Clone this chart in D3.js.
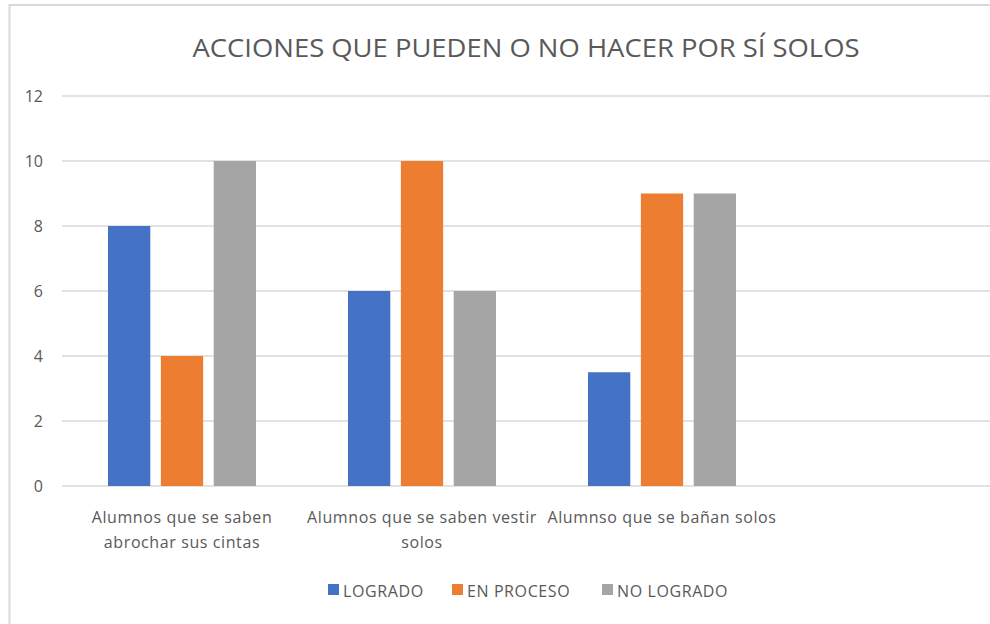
<!DOCTYPE html>
<html>
<head>
<meta charset="utf-8">
<script src="https://cdn.jsdelivr.net/npm/d3@7"></script>
<style>
  body { margin: 0; background: #fff; }
  text { font-family: "Open Sans", "Noto Sans", sans-serif; fill: #595959; }
</style>
</head>
<body>
<svg id="chart" width="990" height="624"></svg>
<script>
// data
var categories = ["Alumnos que se saben abrochar sus cintas", "Alumnos que se saben vestir solos", "Alumnso que se bañan solos", ""];
var categoryLines = [["Alumnos que se saben", "abrochar sus cintas"], ["Alumnos que se saben vestir", "solos"], ["Alumnso que se bañan solos"], []];
var series = ["LOGRADO", "EN PROCESO", "NO LOGRADO"];
var logrado = [8, 6, 3.5];
var enProceso = [4, 10, 9];
var noLogrado = [10, 6, 9];
var yTicks = [0, 2, 4, 6, 8, 10, 12];
var colors = ["#4472c4", "#ed7d31", "#a5a5a5"];
var title = "ACCIONES QUE PUEDEN O NO HACER POR SÍ SOLOS";

var values = [logrado, enProceso, noLogrado];

var svg = d3.select('#chart');

// chart frame (right/bottom side runs off the picture)
svg.append("rect")
    .attr("x", 9.5).attr("y", 5)
    .attr("width", 1100).attr("height", 700)
    .attr("fill", "none")
    .attr("stroke", "#d9d9d9")
    .attr("stroke-width", 2);

var margin = {top: 96, left: 62, bottom: 138, right: -32};
var width = 990, height = 624;

var x = d3.scaleBand().domain(categories).range([margin.left, width - margin.right]).padding(0);
var xs = d3.scaleBand().domain(series).range([46, 194]).paddingInner(0.2).paddingOuter(0);
var y = d3.scaleLinear().domain([0, 12]).range([height - margin.bottom, margin.top]);

// gridlines
svg.append("g")
    .selectAll("line")
    .data(yTicks)
    .join("line")
    .attr("x1", margin.left)
    .attr("x2", width - margin.right)
    .attr("y1", function(d) { return y(d); })
    .attr("y2", function(d) { return y(d); })
    .attr("stroke", "#d9d9d9")
    .attr("stroke-width", 1.5);

// y labels
var yAxis = d3.axisLeft(y).tickValues(yTicks).tickSize(0).tickPadding(19);
var gy = svg.append("g")
    .attr("transform", "translate(" + margin.left + ",0)")
    .call(yAxis);
gy.select(".domain").remove();
gy.selectAll("text").style("font-size", "16px").attr("fill", "#595959")
    .style("font-family", "'Open Sans', sans-serif");

// bars
series.forEach(function(s, i) {
    svg.append("g")
        .selectAll("rect")
        .data(values[i])
        .join("rect")
        .attr("x", function(d, j) { return x(categories[j]) + xs(s); })
        .attr("y", function(d) { return y(d); })
        .attr("width", xs.bandwidth())
        .attr("height", function(d) { return y(0) - y(d); })
        .attr("fill", colors[i]);
});

// x labels
var gx = svg.append("g");
categories.forEach(function(c, j) {
    var t = gx.append("text")
        .attr("text-anchor", "middle")
        .style("font-size", "16px")
        .style("letter-spacing", "0.6px");
    categoryLines[j].forEach(function(line, k) {
        t.append("tspan")
            .attr("x", x(c) + x.bandwidth() / 2)
            .attr("y", y(0) + 37 + k * 25)
            .text(line);
    });
});

// title
svg.append("text")
    .attr("x", 526)
    .attr("y", 57)
    .attr("text-anchor", "middle")
    .attr("textLength", 667)
    .attr("lengthAdjust", "spacingAndGlyphs")
    .style("font-size", "25px")
    .text(title);

// legend
var legend = svg.append("g").attr("transform", "translate(328,584)");
var legendX = [0, 124, 274];
series.forEach(function(s, i) {
    var g = legend.append("g").attr("transform", "translate(" + legendX[i] + ",0)");
    g.append("rect").attr("width", 11).attr("height", 11).attr("fill", colors[i]);
    g.append("text").attr("x", 15).attr("y", 13)
        .style("font-size", "16px")
        .style("letter-spacing", "0.6px")
        .text(s);
});
</script>
</body>
</html>
